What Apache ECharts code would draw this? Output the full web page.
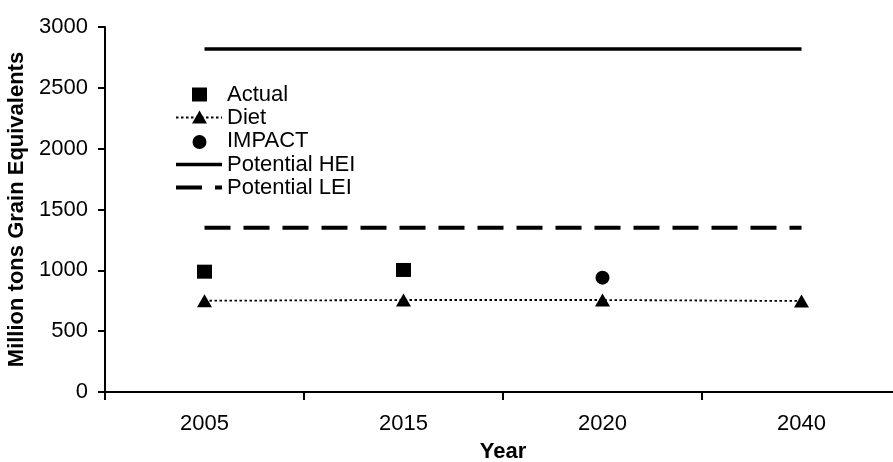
<!DOCTYPE html>
<html>
<head>
<meta charset="utf-8">
<script src="https://cdn.jsdelivr.net/npm/echarts@6/dist/echarts.min.js"></script>
<style>
html,body{margin:0;padding:0;background:#fff;}
#chart{width:893px;height:462px;}
</style>
</head>
<body>
<div id="chart"></div>
<script>
const categories = ['2005', '2015', '2020', '2040'];
const actual = [989, 1003, null, null];
const diet = [750, 756, 756, 748];
const impact = [null, null, 940, null];
const potentialHEI = [2820, 2820, 2820, 2820];
const potentialLEI = [1350, 1350, 1350, 1350];
const yTicks = [0, 500, 1000, 1500, 2000, 2500, 3000];
const legendNames = ['Actual', 'Diet', 'IMPACT', 'Potential HEI', 'Potential LEI'];

const FONT = 'Liberation Sans, Arial, sans-serif';
const FS = 22;

// legend drawn as graphics (icon column + text column)
const LX0 = 176, LX1 = 222, LCX = 199.5, LTX = 227;
const LY = [94.5, 117.5, 141, 164.5, 187.5];
function legendText(i) {
  return {type: 'text', x: LTX, y: LY[i],
    style: {text: legendNames[i], fontFamily: FONT, fontSize: FS, fill: '#000', verticalAlign: 'middle', align: 'left'}};
}
const legendGraphics = [
  {type: 'rect', shape: {x: LCX - 7.5, y: LY[0] - 7, width: 15, height: 14}, style: {fill: '#000'}},
  {type: 'line', shape: {x1: LX0, y1: LY[1], x2: LX1, y2: LY[1]}, style: {stroke: '#000', lineWidth: 1.8, lineDash: [2.5, 2.5]}},
  {type: 'polygon', shape: {points: [[LCX, LY[1] - 7], [LCX - 7.5, LY[1] + 6], [LCX + 7.5, LY[1] + 6]]}, style: {fill: '#000'}},
  {type: 'circle', shape: {cx: LCX, cy: LY[2] + 1, r: 7}, style: {fill: '#000'}},
  {type: 'line', shape: {x1: LX0, y1: LY[3], x2: LX1, y2: LY[3]}, style: {stroke: '#000', lineWidth: 3.5}},
  {type: 'line', shape: {x1: LX0, y1: LY[4], x2: LX1, y2: LY[4]}, style: {stroke: '#000', lineWidth: 4, lineDash: [26, 13]}},
  legendText(0), legendText(1), legendText(2), legendText(3), legendText(4)
];

const chart = echarts.init(document.getElementById('chart'), null, {renderer: 'canvas'});
chart.setOption({
  animation: false,
  backgroundColor: '#ffffff',
  textStyle: {fontFamily: FONT, color: '#000'},
  grid: {left: 105, right: -8, top: 27, bottom: 70, containLabel: false, outerBoundsMode: 'none'},
  graphic: legendGraphics,
  xAxis: {
    type: 'category',
    data: categories,
    boundaryGap: true,
    name: 'Year',
    nameLocation: 'middle',
    nameGap: 49,
    nameTextStyle: {fontFamily: FONT, fontSize: FS, fontWeight: 'bold', color: '#000'},
    axisLine: {lineStyle: {color: '#000', width: 2}},
    axisTick: {show: true, inside: false, length: 8, lineStyle: {color: '#000', width: 2}},
    axisLabel: {fontFamily: FONT, fontSize: FS, color: '#000', margin: 21},
    splitLine: {show: false}
  },
  yAxis: {
    type: 'value',
    min: yTicks[0],
    max: yTicks[yTicks.length - 1],
    interval: 500,
    name: 'Million tons Grain Equivalents',
    nameLocation: 'middle',
    nameGap: 63,
    nameTextStyle: {fontFamily: FONT, fontSize: FS, fontWeight: 'bold', color: '#000'},
    axisLine: {show: true, lineStyle: {color: '#000', width: 2}},
    axisTick: {show: true, inside: false, length: 7, lineStyle: {color: '#000', width: 2}},
    axisLabel: {fontFamily: FONT, fontSize: FS, color: '#000', margin: 17, formatter: v => String(v)},
    splitLine: {show: false}
  },
  series: [
    {
      name: 'Actual', type: 'scatter', data: actual,
      symbol: 'rect', symbolSize: [15, 14],
      itemStyle: {color: '#000', opacity: 1}
    },
    {
      name: 'Diet', type: 'line', data: diet,
      symbol: 'triangle', symbolSize: [15, 13], showAllSymbol: true,
      itemStyle: {color: '#000', opacity: 1},
      lineStyle: {color: '#000', width: 1.8, type: [2.5, 2.5]}
    },
    {
      name: 'IMPACT', type: 'scatter', data: impact,
      symbol: 'circle', symbolSize: 14,
      itemStyle: {color: '#000', opacity: 1}
    },
    {
      name: 'Potential HEI', type: 'line', data: potentialHEI,
      symbol: 'none',
      itemStyle: {color: '#000'},
      lineStyle: {color: '#000', width: 3.5, type: 'solid'}
    },
    {
      name: 'Potential LEI', type: 'line', data: potentialLEI,
      symbol: 'none',
      itemStyle: {color: '#000'},
      lineStyle: {color: '#000', width: 4, type: [26, 13]}
    }
  ]
});
</script>
</body>
</html>
